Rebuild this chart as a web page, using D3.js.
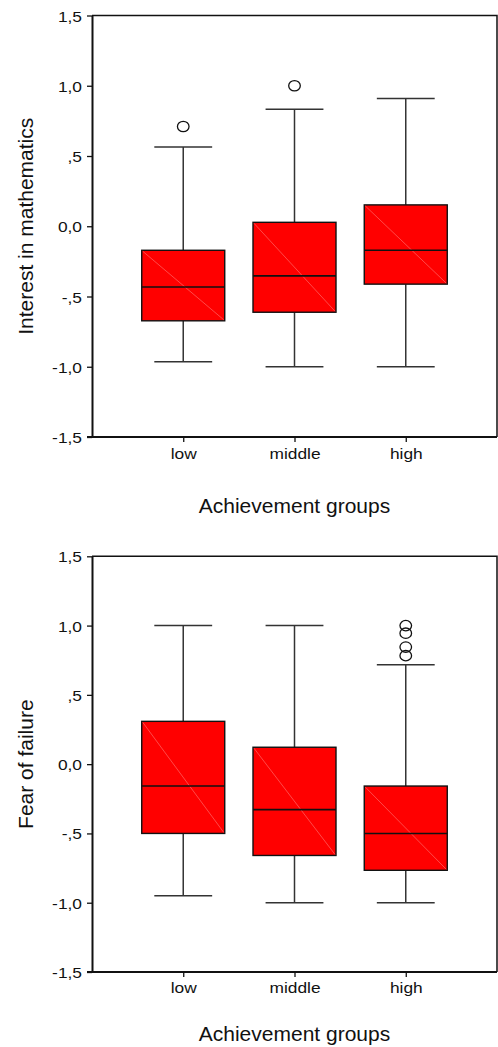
<!DOCTYPE html>
<html>
<head>
<meta charset="utf-8">
<script src="https://cdn.jsdelivr.net/npm/d3@7"></script>
<style>
  body { margin: 0; background: #fff; }
  text { font-family: "Liberation Sans", Arial, sans-serif; fill: #111; }
</style>
</head>
<body>
<div id="chart"></div>
<script>
// ----- data -------
const groups = ["low", "middle", "high"];
const yTicks = [-1.5, -1, -0.5, 0, 0.5, 1, 1.5];
const yTickLabels = ["-1,5", "-1,0", "-,5", "0,0", ",5", "1,0", "1,5"];

// Interest in mathematics
const interestLow = [-0.965, -1.0, -1.0];
const interestQ1 = [-0.673, -0.612, -0.412];
const interestMedian = [-0.432, -0.353, -0.171];
const interestQ3 = [-0.171, 0.028, 0.152];
const interestHigh = [0.564, 0.832, 0.91];
const interestOutliers = [[0.71], [1.0], []];

// Fear of failure
const fearLow = [-0.95, -1.0, -1.0];
const fearQ1 = [-0.5, -0.659, -0.766];
const fearMedian = [-0.158, -0.328, -0.5];
const fearQ3 = [0.309, 0.122, -0.158];
const fearHigh = [1.0, 1.0, 0.718];
const fearOutliers = [[], [], [1.0, 0.945, 0.845, 0.783]];

const W = 498, H = 1047;
const sx = 1.12; // small labels look a bit wider than tall

const svg = d3.select("#chart").append("svg")
  .attr("width", W).attr("height", H);

function boxPanel(cfg) {
  const left = 92, right = 497;
  const x = d3.scalePoint().domain(groups).range([left, right]).padding(0.82);
  const y = d3.scaleLinear().domain([-1.5, 1.5]).range([cfg.bottom, cfg.top]);
  const step = x.step();
  const boxW = step * 0.746, capW = step * 0.52;

  const g = svg.append("g");

  // frame top + right
  g.append("path")
    .attr("d", `M${left},${cfg.top}H${right}V${cfg.bottom}`)
    .attr("fill", "none").attr("stroke", "#111").attr("stroke-width", 1.5);

  // y axis
  const ya = g.append("g")
    .attr("transform", `translate(${left},0)`)
    .call(d3.axisLeft(y).tickValues(yTicks).tickSize(5).tickSizeOuter(0)
      .tickFormat((d, i) => yTickLabels[i]));
  ya.select(".domain").attr("stroke", "#111").attr("stroke-width", 2);
  ya.selectAll(".tick line").attr("stroke", "#111").attr("stroke-width", 1.3);
  ya.selectAll(".tick text")
    .attr("x", null).attr("dy", null)
    .attr("transform", `translate(-10,5.5) scale(${sx},1)`)
    .attr("text-anchor", "end")
    .style("font-size", "15.5px");

  // x axis
  const xa = g.append("g")
    .attr("transform", `translate(0,${cfg.bottom})`)
    .call(d3.axisBottom(x).tickSize(5).tickSizeOuter(0));
  xa.select(".domain").attr("d", `M${left - 5},0H${right}`)
    .attr("stroke", "#111").attr("stroke-width", 2);
  xa.selectAll(".tick line").attr("stroke", "#111").attr("stroke-width", 1.3);
  xa.selectAll(".tick text")
    .attr("y", null).attr("dy", null)
    .attr("transform", `translate(0,${cfg.catDy}) scale(${sx},1)`)
    .attr("text-anchor", "middle")
    .style("font-size", "15.5px");

  d3.selectAll("svg .tick text").style("fill", "#111");

  // whiskers
  const wh = g.append("g").attr("stroke", "#333").attr("stroke-width", 1.5);
  groups.forEach((k, i) => {
    const cx = x(k);
    wh.append("line").attr("x1", cx).attr("x2", cx)
      .attr("y1", y(cfg.high[i])).attr("y2", y(cfg.q3[i]));
    wh.append("line").attr("x1", cx).attr("x2", cx)
      .attr("y1", y(cfg.q1[i])).attr("y2", y(cfg.low[i]));
    wh.append("line").attr("x1", cx - capW / 2).attr("x2", cx + capW / 2)
      .attr("y1", y(cfg.high[i])).attr("y2", y(cfg.high[i]));
    wh.append("line").attr("x1", cx - capW / 2).attr("x2", cx + capW / 2)
      .attr("y1", y(cfg.low[i])).attr("y2", y(cfg.low[i]));
  });

  // boxes
  groups.forEach((k, i) => {
    const x0 = x(k) - boxW / 2, x1 = x(k) + boxW / 2;
    const yt = y(cfg.q3[i]), yb = y(cfg.q1[i]);
    g.append("rect")
      .attr("x", x0).attr("y", yt)
      .attr("width", boxW).attr("height", yb - yt)
      .attr("fill", "#ff0000").attr("stroke", "#111").attr("stroke-width", 1.4);
    g.append("line")
      .attr("x1", x0 + 1).attr("y1", yt + 1).attr("x2", x1 - 1).attr("y2", yb - 1)
      .attr("stroke", "#ff7a7a").attr("stroke-width", 0.6);
    g.append("line")
      .attr("x1", x0).attr("x2", x1)
      .attr("y1", y(cfg.median[i])).attr("y2", y(cfg.median[i]))
      .attr("stroke", "#111").attr("stroke-width", 1.6);
  });

  // outliers
  groups.forEach((k, i) => {
    g.selectAll(null).data(cfg.outliers[i]).join("ellipse")
      .attr("cx", x(k)).attr("cy", d => y(d))
      .attr("rx", 5.8).attr("ry", 5.2)
      .attr("fill", "none").attr("stroke", "#111").attr("stroke-width", 1.3);
  });

  // titles
  g.append("text")
    .attr("transform", `translate(33,${(cfg.top + cfg.bottom) / 2}) rotate(-90)`)
    .attr("text-anchor", "middle")
    .style("font-size", "21px")
    .text(cfg.yTitle);

  g.append("text")
    .attr("x", (left + right) / 2)
    .attr("y", cfg.bottom + cfg.titleDy)
    .attr("text-anchor", "middle")
    .style("font-size", "21px")
    .text("Achievement groups");
}

boxPanel({
  top: 15.5, bottom: 437, catDy: 22, titleDy: 75.7,
  yTitle: "Interest in mathematics",
  low: interestLow, q1: interestQ1, median: interestMedian,
  q3: interestQ3, high: interestHigh, outliers: interestOutliers
});

boxPanel({
  top: 556.3, bottom: 972, catDy: 21.3, titleDy: 69,
  yTitle: "Fear of failure",
  low: fearLow, q1: fearQ1, median: fearMedian,
  q3: fearQ3, high: fearHigh, outliers: fearOutliers
});
</script>
</body>
</html>
